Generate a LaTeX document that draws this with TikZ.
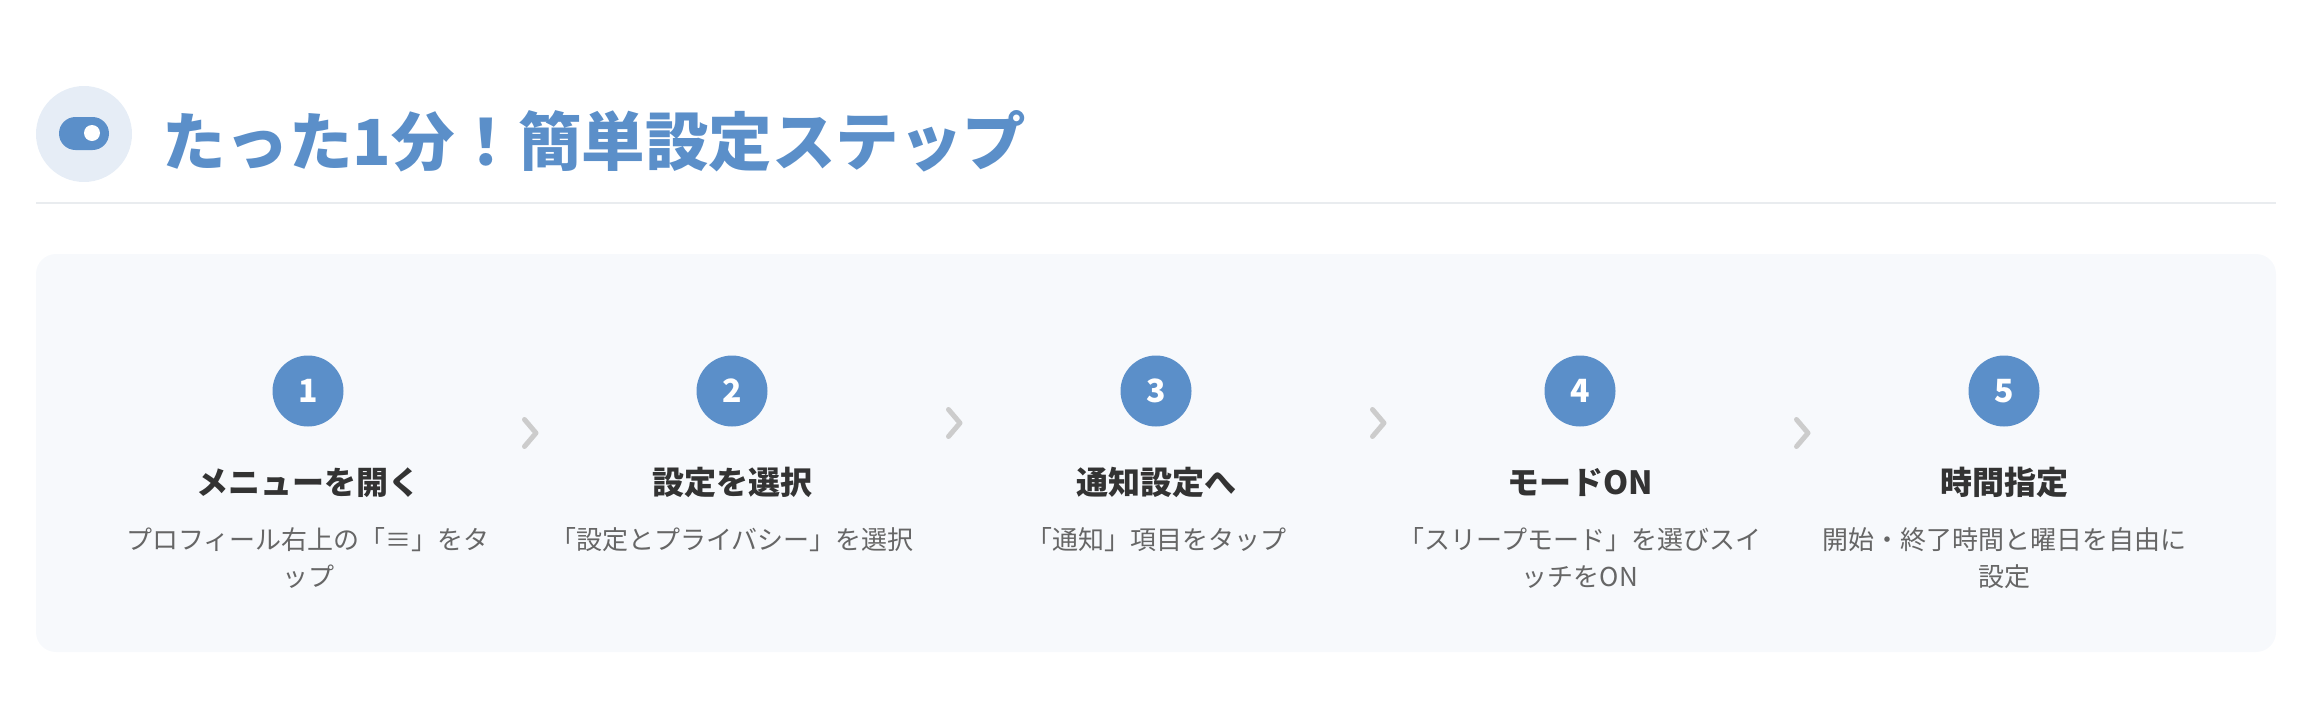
\documentclass[tikz,border=0pt]{standalone}
\usepackage{fontspec}
\setmainfont{Noto Sans CJK JP}
\usepackage{xcolor}
\usepackage{tikz}
\usetikzlibrary{positioning}
\definecolor{mainblue}{HTML}{5B8FC9}
\definecolor{iconbg}{HTML}{E6EDF6}
\definecolor{panelbg}{HTML}{F7F9FC}
\definecolor{rulegray}{HTML}{E9ECEF}
\definecolor{titletext}{HTML}{333333}
\definecolor{desctext}{HTML}{666666}
\definecolor{chevgray}{HTML}{CCCCCC}

\begin{document}
\begin{tikzpicture}[
x=1pt, y=-1pt,
stepnum/.style={
circle,
fill=mainblue,
minimum size=71pt,
inner sep=0pt,
text=white,
font=\bfseries\fontsize{32}{32}\selectfont
},
steptitle/.style={
anchor=base,
inner sep=0pt,
text=titletext,
font=\bfseries\fontsize{32}{32}\selectfont
},
stepdesc/.style={
anchor=north,
inner sep=0pt,
align=center,
text=desctext,
font=\fontsize{26}{37}\selectfont
},
chevron/.style={
draw=chevgray,
line width=5pt,
line cap=round,
line join=round
}
]
\useasboundingbox (0,0) rectangle (2308,718);

% ヘッダー
\fill[iconbg] (84,134) circle (48);
\node[fill=mainblue, rounded corners=16.5pt, minimum width=50pt, minimum height=33pt, inner sep=0pt] (toggle) at (84,133.5) {};
\fill[white] (92,133) circle (8);
\node[anchor=base west, inner sep=0pt, text=mainblue, font=\bfseries\fontsize{63.5}{63.5}\selectfont] (header) at (162,165) {たった1分！簡単設定ステップ};
\draw[rulegray, line width=2pt] (36,203) -- (2276,203);

% パネル
\fill[panelbg, rounded corners=20pt] (36,254) rectangle (2276,652);

% ステップ
\node[stepnum] (num-1) at (308,391) {1};
\node[steptitle] (title-1) at (308,494) {メニューを開く};
\node[stepdesc] (desc-1) at (308,527) {プロフィール右上の「≡」をタ\\ップ};

\node[stepnum] (num-2) at (732,391) {2};
\node[steptitle] (title-2) at (732,494) {設定を選択};
\node[stepdesc] (desc-2) at (732,527) {「設定とプライバシー」を選択};

\node[stepnum] (num-3) at (1156,391) {3};
\node[steptitle] (title-3) at (1156,494) {通知設定へ};
\node[stepdesc] (desc-3) at (1156,527) {「通知」項目をタップ};

\node[stepnum] (num-4) at (1580,391) {4};
\node[steptitle] (title-4) at (1580,494) {モードON};
\node[stepdesc] (desc-4) at (1580,527) {「スリープモード」を選びスイ\\ッチをON};

\node[stepnum] (num-5) at (2004,391) {5};
\node[steptitle] (title-5) at (2004,494) {時間指定};
\node[stepdesc] (desc-5) at (2004,527) {開始・終了時間と曜日を自由に\\設定};

% 矢印
\coordinate (chev-1) at (536,433);
\coordinate (chev-2) at (960,423);
\coordinate (chev-3) at (1384,423);
\coordinate (chev-4) at (1808,433);
\draw[chevron] ([shift={(-11.5,-13.5)}]chev-1) -- (chev-1) -- ([shift={(-11.5,13.5)}]chev-1);
\draw[chevron] ([shift={(-11.5,-13.5)}]chev-2) -- (chev-2) -- ([shift={(-11.5,13.5)}]chev-2);
\draw[chevron] ([shift={(-11.5,-13.5)}]chev-3) -- (chev-3) -- ([shift={(-11.5,13.5)}]chev-3);
\draw[chevron] ([shift={(-11.5,-13.5)}]chev-4) -- (chev-4) -- ([shift={(-11.5,13.5)}]chev-4);
\end{tikzpicture}
\end{document}
